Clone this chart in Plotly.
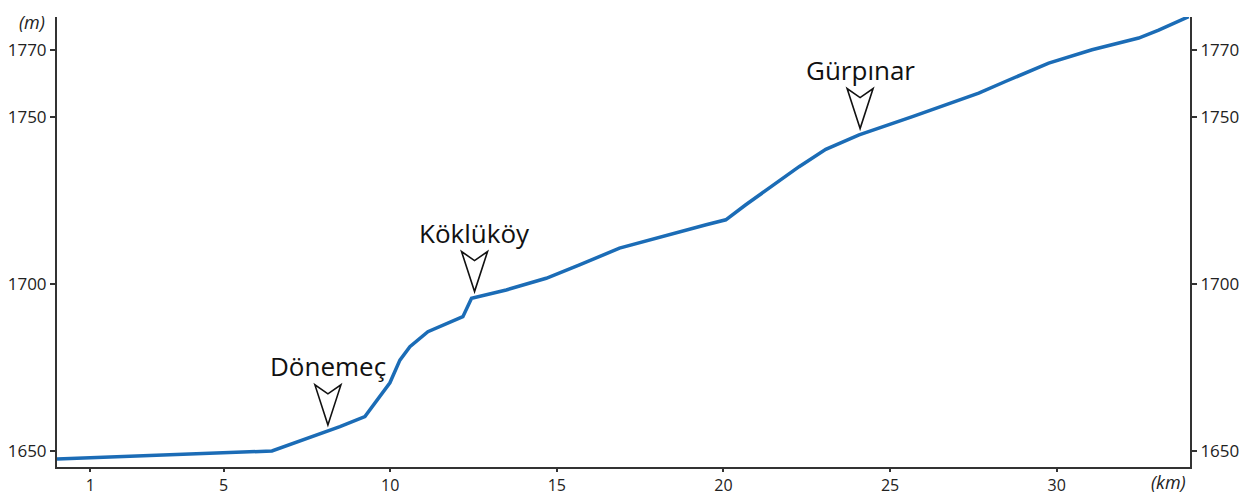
import numpy as np
import plotly.graph_objects as go

# Elevation profile (distance in km, elevation in m)
km = [0.0, 6.45, 8.49, 9.24, 9.99, 10.29, 10.59, 11.13, 12.18, 12.44, 13.48, 14.68,
      15.68, 16.88, 19.48, 20.07, 20.67, 21.57, 22.27, 23.07, 24.07, 25.67, 27.66,
      28.46, 29.76, 31.06, 32.46, 33.06, 33.96]
elev = [1647.6, 1650.0, 1657.3, 1660.3, 1670.4, 1677.2, 1681.2, 1685.7, 1690.2, 1695.7,
        1698.2, 1701.7, 1705.7, 1710.7, 1717.7, 1719.2, 1723.7, 1730.1, 1735.1, 1740.3,
        1744.6, 1750.1, 1757.1, 1760.6, 1766.1, 1770.1, 1773.6, 1776.0, 1780.0]

# Places marked along the profile
places = ["Dönemeç", "Köklüköy", "Gürpınar"]
place_km = [8.13, 12.53, 24.1]

x_ticks = [1, 5, 10, 15, 20, 25, 30]
y_ticks = [1650, 1700, 1750, 1770]

line_color = "#1b6cb6"
axis_color = "#333333"
font_family = "Open Sans, DejaVu Sans, sans-serif"

fig = go.Figure()
fig.add_trace(go.Scatter(x=km, y=elev, mode="lines",
                         line=dict(color=line_color, width=3.5),
                         showlegend=False, hoverinfo="skip"))
fig.add_trace(go.Scatter(x=km, y=elev, mode="lines", yaxis="y2",
                         line=dict(color="rgba(0,0,0,0)", width=0),
                         showlegend=False, hoverinfo="skip"))

place_elev = np.interp(place_km, km, elev)
arrow_path = "M 0 6 L -13 46 L 0 37 L 13 46 Z"
for name, xk, ye in zip(places, place_km, place_elev):
    fig.add_shape(type="path", xref="x", yref="y",
                  xsizemode="pixel", ysizemode="pixel",
                  xanchor=float(xk), yanchor=float(ye),
                  path=arrow_path,
                  line=dict(color="#111111", width=1.6),
                  fillcolor="rgba(255,255,255,0)")
    fig.add_annotation(x=float(xk), y=float(ye), xref="x", yref="y",
                       text=name, showarrow=False, yanchor="middle",
                       yshift=65, font=dict(size=26, color="#111111", family=font_family))

fig.add_annotation(x=0, y=1, xref="paper", yref="paper", text="<i>(m)</i>",
                   showarrow=False, xanchor="right", yanchor="middle",
                   xshift=-10, yshift=-5, font=dict(size=18, color="#222222", family=font_family))
fig.add_annotation(x=1, y=0, xref="paper", yref="paper", text="<i>(km)</i>",
                   showarrow=False, xanchor="right", yanchor="middle",
                   xshift=-2, yshift=-15, font=dict(size=18, color="#222222", family=font_family))

yr = [1645.2, 1779.9]
axis_common = dict(showgrid=False, zeroline=False, showline=True, linecolor=axis_color,
                   linewidth=2, ticks="outside", tickwidth=1.5,
                   tickcolor=axis_color, automargin=False)

fig.update_layout(
    width=1242, height=494,
    margin=dict(l=57, r=52, t=17, b=27),
    paper_bgcolor="white", plot_bgcolor="white",
    xaxis=dict(range=[0, 34], tickvals=x_ticks, ticklen=3,
               tickfont=dict(size=16, color="#222222", family=font_family), **axis_common),
    yaxis=dict(range=yr, tickvals=y_ticks, ticklen=5,
               tickfont=dict(size=17, color="#222222", family=font_family), **axis_common),
    yaxis2=dict(range=yr, tickvals=y_ticks, overlaying="y", side="right", ticklen=5,
                tickfont=dict(size=17, color="#222222", family=font_family),
                anchor="x", **axis_common),
)

fig.write_html("out.html", config={"displayModeBar": False},
               post_script="document.body.style.margin='0';document.body.style.overflow='hidden';")
